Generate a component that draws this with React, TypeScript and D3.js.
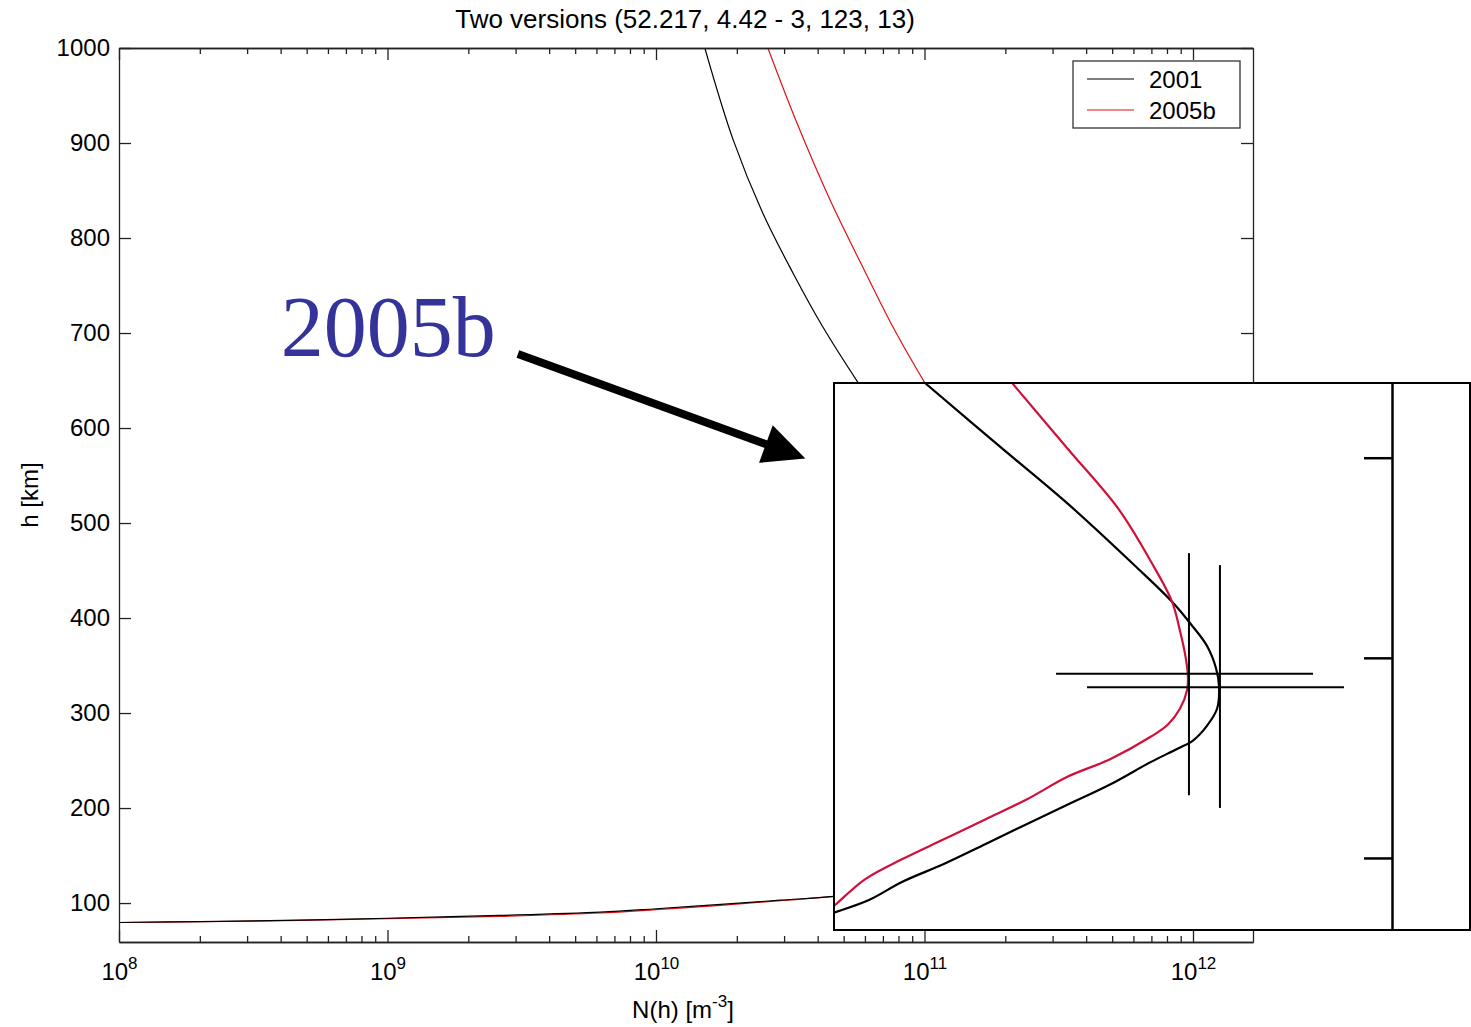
import * as d3 from 'd3';
import { useEffect, useRef } from 'react';

const title = 'Two versions (52.217, 4.42 - 3, 123, 13)';
const seriesNames = ['2001', '2005b'];
const lineColors = ['#000000', '#dd1111'];
const insetColors = ['#000000', '#d0103a'];

// main axes: topside, h [km] -> N [m^-3]
const topH2001 = [1000, 903, 826, 763, 706, 648, 620];
const topN2001 = [1.52e10, 1.94e10, 2.5e10, 3.24e10, 4.19e10, 5.65e10, 6.6e10];
const topH2005b = [1000, 921, 840, 769, 706, 648, 620];
const topN2005b = [2.61e10, 3.35e10, 4.45e10, 5.9e10, 7.64e10, 1.0e11, 1.15e11];

// main axes: bottomside, N [m^-3] -> h [km]
const bottomN = [1e8, 2e8, 4.7e8, 1e9, 2.6e9, 6.2e9, 1e10, 1.74e10, 2.9e10, 4.6e10, 8e10];
const bottomH2001 = [79.5, 80.5, 82, 84, 87, 90.5, 94, 98.5, 103, 107, 115];
const bottomH2005b = [79.5, 80.3, 81.7, 83.5, 86, 89.5, 93, 97.5, 102.5, 107, 115];

// inset (zoomed profile, own height scale)
const insetH2001 = [515, 505.8, 457, 415, 369, 342, 325, 309, 292, 279, 262, 249, 238, 232, 222, 205, 190, 175.5, 160.5, 145.5, 132, 118.5, 109, 105];
const insetN2001 = [8.9e10, 1.007e11, 1.945e11, 3.44e11, 6.08e11, 8.36e11, 9.84e11, 1.127e12, 1.219e12, 1.25e12, 1.23e12, 1.127e12, 1.0e12, 8.79e11, 6.98e11, 4.91e11, 3.42e11, 2.41e11, 1.69e11, 1.18e11, 8.24e10, 6.21e10, 4.6e10, 4.0e10];
const insetH2005b = [515, 506, 456, 412, 372, 342, 320, 303.5, 287, 276, 262, 250, 241, 224, 211, 194, 179, 164, 149, 134, 114, 104];
const insetN2005b = [1.95e11, 2.12e11, 3.44e11, 5.26e11, 6.98e11, 8.36e11, 8.95e11, 9.33e11, 9.57e11, 9.51e11, 8.95e11, 8.07e11, 6.98e11, 4.91e11, 3.42e11, 2.41e11, 1.69e11, 1.18e11, 8.24e10, 6.0e10, 4.6e10, 4.0e10];
const insetTicks = [150, 300, 450];

// peak crosshairs (NmF2, hmF2 with ranges) for 2001, 2005b
const peakN = [1.26e12, 9.66e11];
const peakH = [278, 288];
const peakNRange = [[4.03e11, 3.65e12], [3.09e11, 2.8e12]];
const peakHRange = [[187.5, 369.5], [197, 378.5]];

// annotation
const noteText = '2005b';
const noteAt = [4.0e8, 676];
const arrowFrom = [3.06e9, 678];
const arrowTo = [3.6e10, 568];

const yTicks = [100, 200, 300, 400, 500, 600, 700, 800, 900, 1000];
const xMajor = [1e8, 1e9, 1e10, 1e11, 1e12];

const font = "'Liberation Sans', Arial, Helvetica, sans-serif";

export default function App() {
  const svgRef = useRef<SVGSVGElement>(null);

  useEffect(() => {
    const svg = d3.select(svgRef.current);
    svg.selectAll('*').remove();

    const width = 1471;
    const height = 1027;
    const marginLeft = 119;
    const marginRight = 218;
    const marginTop = 48;
    const marginBottom = 85;
    const left = marginLeft, right = width - marginRight;
    const top = marginTop, bottom = height - marginBottom;

    const x = d3.scaleLog([1e8, 1.673e12], [left, right]);
    const y = d3.scaleLinear([59, 1000], [bottom, top]);
    const xMinor = x.ticks().filter(v => !xMajor.includes(v));

    svg.append('rect').attr('width', width).attr('height', height).attr('fill', '#fff');

    // clip for main plot
    svg.append('clipPath').attr('id', 'plotclip')
      .append('rect').attr('x', left).attr('y', top).attr('width', right - left).attr('height', bottom - top);

    // Curves on the main axes
    const line = d3.line<[number, number]>()
      .x(d => x(d[0]))
      .y(d => y(d[1]))
      .curve(d3.curveCatmullRom);

    const mainSeries = [
      [topN2001.map((n, i) => [n, topH2001[i]]), bottomN.map((n, i) => [n, bottomH2001[i]])],
      [topN2005b.map((n, i) => [n, topH2005b[i]]), bottomN.map((n, i) => [n, bottomH2005b[i]])],
    ];
    const gCurves = svg.append('g').attr('clip-path', 'url(#plotclip)');
    [1, 0].forEach(s => {
      mainSeries[s].forEach(seg => {
        gCurves.append('path')
          .attr('fill', 'none')
          .attr('stroke', lineColors[s])
          .attr('stroke-width', 1.2)
          .attr('d', line(seg as [number, number][]));
      });
    });

    const styleAxis = (g: any) => g
      .attr('color', '#222')
      .attr('font-family', font)
      .attr('font-size', 24)
      .call((g: any) => g.selectAll('text').attr('fill', '#000'))
      .call((g: any) => g.selectAll('path, line').attr('stroke-width', 1.3));

    // bottom axis
    svg.append('g').attr('transform', `translate(0,${bottom})`)
      .call(d3.axisBottom(x).tickValues(xMinor).tickSize(-6).tickSizeOuter(0).tickFormat(() => ''))
      .call(styleAxis);
    svg.append('g').attr('transform', `translate(0,${bottom})`)
      .call(d3.axisBottom(x).tickValues(xMajor).tickSize(-12).tickSizeOuter(0).tickFormat(() => ''))
      .call(styleAxis)
      .call(g => g.selectAll<SVGTextElement, number>('.tick text').each(function (d) {
        const t = d3.select(this).attr('y', 38).attr('dy', null);
        t.append('tspan').text('10');
        t.append('tspan').attr('dy', -11).attr('font-size', 17).text(Math.round(Math.log10(d)));
      }));

    // top axis
    svg.append('g').attr('transform', `translate(0,${top})`)
      .call(d3.axisTop(x).tickValues(xMinor).tickSize(-6).tickSizeOuter(0).tickFormat(() => ''))
      .call(styleAxis);
    svg.append('g').attr('transform', `translate(0,${top})`)
      .call(d3.axisTop(x).tickValues(xMajor).tickSize(-12).tickSizeOuter(0).tickFormat(() => ''))
      .call(styleAxis);

    // left axis
    svg.append('g').attr('transform', `translate(${left},0)`)
      .call(d3.axisLeft(y).tickValues(yTicks).tickSize(-12).tickSizeOuter(0).tickPadding(9).tickFormat(d3.format('d')))
      .call(styleAxis);

    // right axis
    svg.append('g').attr('transform', `translate(${right},0)`)
      .call(d3.axisRight(y).tickValues(yTicks).tickSize(-12).tickSizeOuter(0).tickFormat(() => ''))
      .call(styleAxis);

    // title and labels
    svg.append('text')
      .attr('x', (left + right) / 2 - 1).attr('y', 28)
      .attr('text-anchor', 'middle')
      .attr('font-family', font).attr('font-size', 26)
      .text(title);

    svg.append('text')
      .attr('transform', `translate(38,${(top + bottom) / 2}) rotate(-90)`)
      .attr('text-anchor', 'middle')
      .attr('font-family', font).attr('font-size', 24)
      .text('h [km]');

    const xl = svg.append('text')
      .attr('x', (left + right) / 2 - 3).attr('y', 1018)
      .attr('text-anchor', 'middle')
      .attr('font-family', font).attr('font-size', 24);
    xl.append('tspan').text('N(h) [m');
    xl.append('tspan').attr('dy', -11).attr('font-size', 17).text('-3');
    xl.append('tspan').attr('dy', 11).text(']');

    // legend
    const legend = svg.append('g').attr('transform', 'translate(1073,61)');
    legend.append('rect')
      .attr('width', 167).attr('height', 67)
      .attr('fill', '#fff').attr('stroke', '#333').attr('stroke-width', 1.3);
    seriesNames.forEach((name, i) => {
      const ly = 18 + i * 31;
      legend.append('line')
        .attr('x1', 14).attr('x2', 61).attr('y1', ly).attr('y2', ly)
        .attr('stroke', lineColors[i]).attr('stroke-width', 1.2);
      legend.append('text')
        .attr('x', 76).attr('y', ly).attr('dy', '0.36em')
        .attr('font-family', font).attr('font-size', 24)
        .text(name);
    });

    // inset: zoomed view of the profiles, same N scale, own height scale
    const insetLeft = 834, insetRight = 1470, insetTop = 383, insetBottom = 930, insetAxisX = 1392;
    const insetY = d3.scaleLinear([96, 506], [insetBottom, insetTop]);
    const insetLine = d3.line<[number, number]>()
      .x(d => x(d[0]))
      .y(d => insetY(d[1]))
      .curve(d3.curveCatmullRom);

    const inset = svg.append('g');
    inset.append('rect')
      .attr('x', insetLeft).attr('y', insetTop)
      .attr('width', insetRight - insetLeft).attr('height', insetBottom - insetTop)
      .attr('fill', '#fff');
    svg.append('clipPath').attr('id', 'insetclip')
      .append('rect')
      .attr('x', insetLeft).attr('y', insetTop)
      .attr('width', insetRight - insetLeft).attr('height', insetBottom - insetTop);

    const insetSeries = [
      insetN2001.map((n, i) => [n, insetH2001[i]]),
      insetN2005b.map((n, i) => [n, insetH2005b[i]]),
    ];
    const gi = inset.append('g').attr('clip-path', 'url(#insetclip)');
    insetSeries.forEach((pts, s) => {
      gi.append('path')
        .attr('fill', 'none')
        .attr('stroke', insetColors[s])
        .attr('stroke-width', 2.2)
        .attr('d', insetLine(pts as [number, number][]));
    });

    // crosshairs at the peaks
    peakN.forEach((n, i) => {
      gi.append('line')
        .attr('x1', x(n)).attr('x2', x(n))
        .attr('y1', insetY(peakHRange[i][0])).attr('y2', insetY(peakHRange[i][1]))
        .attr('stroke', '#000').attr('stroke-width', 2);
      gi.append('line')
        .attr('x1', x(peakNRange[i][0])).attr('x2', x(peakNRange[i][1]))
        .attr('y1', insetY(peakH[i])).attr('y2', insetY(peakH[i]))
        .attr('stroke', '#000').attr('stroke-width', 2);
    });

    inset.append('rect')
      .attr('x', insetLeft).attr('y', insetTop)
      .attr('width', insetRight - insetLeft).attr('height', insetBottom - insetTop)
      .attr('fill', 'none').attr('stroke', '#000').attr('stroke-width', 2);

    inset.append('g').attr('transform', `translate(${insetAxisX},0)`)
      .call(d3.axisLeft(insetY).tickValues(insetTicks).tickSize(28).tickSizeOuter(0).tickFormat(() => ''))
      .attr('color', '#000')
      .call(g => g.selectAll('path, line').attr('stroke-width', 2.5));

    // annotation text and arrow
    svg.append('text')
      .attr('x', x(noteAt[0])).attr('y', y(noteAt[1]))
      .attr('font-family', "'Liberation Serif', 'Times New Roman', serif")
      .attr('font-size', 86)
      .attr('fill', '#333399')
      .text(noteText);

    const ax0 = x(arrowFrom[0]), ay0 = y(arrowFrom[1]);
    const ax1 = x(arrowTo[0]), ay1 = y(arrowTo[1]);
    const ang = Math.atan2(ay1 - ay0, ax1 - ax0);
    const ux = Math.cos(ang), uy = Math.sin(ang);
    const headLen = 42, headHalf = 20;
    const bx = ax1 - ux * headLen, by = ay1 - uy * headLen;
    svg.append('line')
      .attr('x1', ax0).attr('y1', ay0)
      .attr('x2', bx + ux * 4).attr('y2', by + uy * 4)
      .attr('stroke', '#000').attr('stroke-width', 8);
    svg.append('path')
      .attr('fill', '#000')
      .attr('d', `M${ax1},${ay1}L${bx - uy * headHalf},${by + ux * headHalf}L${bx + uy * headHalf},${by - ux * headHalf}Z`);
  }, []);

  return (
    <svg
      ref={svgRef}
      width={1471}
      height={1027}
      style={{ position: 'absolute', left: 0, top: 0 }}
    />
  );
}
